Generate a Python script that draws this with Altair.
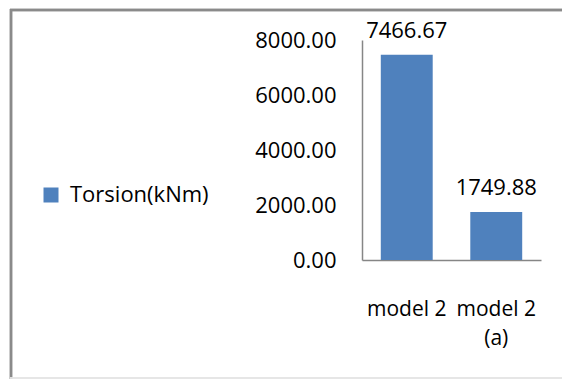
import altair as alt
import pandas as pd

categories = ["model 2", "model 2|(a)"]
values = [7466.67, 1749.88]
series_name = "Torsion(kNm)"
y_ticks = [0, 2000, 4000, 6000, 8000]

df = pd.DataFrame({"model": categories, "value": values, "series": [series_name] * len(values)})

FONT = "Open Sans"
W, H = 179, 220
PAD_L, PAD_T = 362, 40

x_enc = alt.X(
    "model:N",
    sort=categories,
    scale=alt.Scale(paddingInner=0.42, paddingOuter=0.21),
    axis=alt.Axis(
        title=None, labelAngle=0, ticks=False, labelPadding=38,
        labelFont=FONT, labelFontSize=21, labelColor="#000000",
        labelLineHeight=29,
        labelExpr="split(datum.label, '|')",
        domainColor="#868686", domainWidth=1.5,
    ),
)
y_enc = alt.Y(
    "value:Q",
    scale=alt.Scale(domain=[0, 8000]),
    axis=alt.Axis(
        title=None, values=y_ticks, format=".2f", grid=False, ticks=False,
        labelPadding=26, labelFont=FONT, labelFontSize=22, labelColor="#000000",
        domainColor="#868686", domainWidth=1.5,
    ),
)

frame_top = alt.Chart(df).mark_rule(color="#8a8a8a", strokeWidth=2.5, clip=False).encode(
    x=alt.value(10 - PAD_L), x2=alt.value(600 - PAD_L), y=alt.value(10 - PAD_T)
)
frame_left = alt.Chart(df).mark_rule(color="#8a8a8a", strokeWidth=2.5, clip=False).encode(
    x=alt.value(11 - PAD_L), y=alt.value(9 - PAD_T), y2=alt.value(400 - PAD_T)
)
frame_bottom = alt.Chart(df).mark_rule(color="#e4e4e4", strokeWidth=1.5, clip=False).encode(
    x=alt.value(10 - PAD_L), x2=alt.value(600 - PAD_L), y=alt.value(378 - PAD_T)
)

bars = alt.Chart(df).mark_bar(color="#4F81BD").encode(
    x=x_enc,
    y=y_enc,
    color=alt.Color(
        "series:N",
        scale=alt.Scale(range=["#4F81BD"]),
        legend=alt.Legend(
            title=None, orient="none", legendX=40 - PAD_L, legendY=184 - PAD_T,
            symbolType="square", symbolSize=225, symbolStrokeWidth=0,
            labelFont=FONT, labelFontSize=22, labelColor="#000000",
            labelOffset=8, padding=0, offset=0,
        ),
    ),
)

labels = alt.Chart(df).mark_text(
    font=FONT, fontSize=22, color="#000000", baseline="middle", dy=-24
).encode(
    x=alt.X("model:N", sort=categories),
    y="value:Q",
    text=alt.Text("value:Q", format=".2f"),
)

chart = alt.layer(frame_top, frame_left, frame_bottom, bars, labels).properties(
    width=W, height=H,
    autosize=alt.AutoSizeParams(type="none"),
    padding={"left": PAD_L, "top": PAD_T, "right": 562 - PAD_L - W, "bottom": 379 - PAD_T - H},
    background="#ffffff",
).configure_view(stroke=None)

chart.save("out.html", embed_options={"renderer": "svg", "actions": False})
